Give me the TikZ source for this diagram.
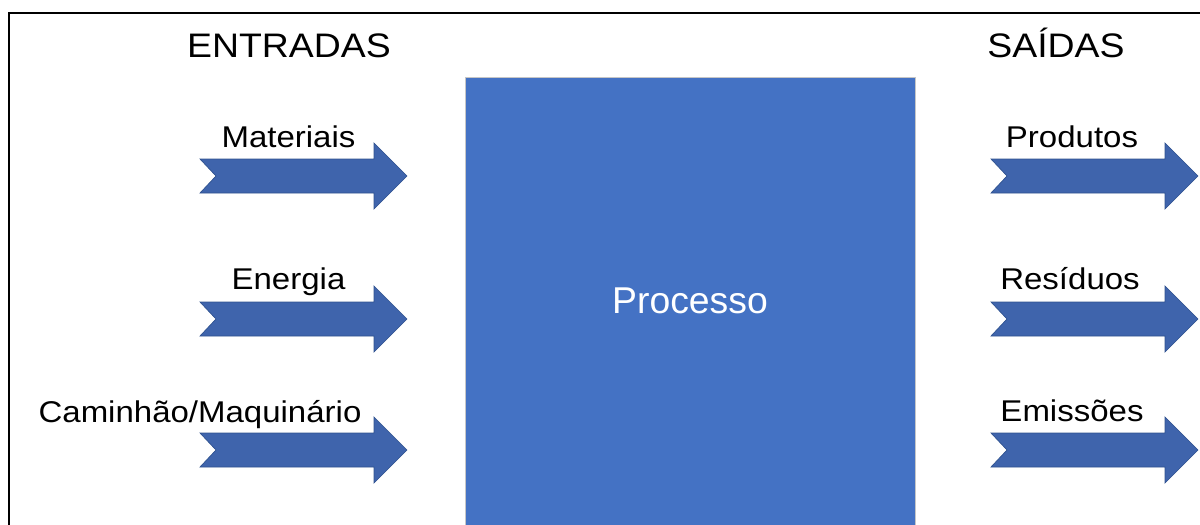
\documentclass[tikz,border=0pt]{standalone}
\usepackage{fontspec}
\setmainfont[FakeStretch=1.1]{Liberation Sans}
\newfontfamily\plainsans{Liberation Sans}
\definecolor{procblue}{HTML}{4472C4}
\definecolor{arrowblue}{HTML}{3F64AC}
\definecolor{arrowedge}{HTML}{2F528F}
\tikzset{
  heading/.style={anchor=base, font=\fontsize{25.5}{30}\selectfont},
  flowlabel/.style={anchor=base, font=\fontsize{22.5}{27}\selectfont},
  procbox/.style={fill=procblue, draw=gray!45, line width=0.6pt, anchor=north west,
    minimum width=337.5pt, minimum height=340pt, inner sep=0pt},
  proctext/.style={text=white, font=\plainsans\fontsize{28}{34}\selectfont},
  frameline/.style={line width=1.5pt, black},
  pics/flowarrow/.style={code={
    \fill[arrowblue, draw=arrowedge, line width=0.5pt, line join=miter]
      (0,-17) -- (174,-17) -- (174,-33) -- (207,0) -- (174,33) -- (174,17)
      -- (0,17) -- (16,0) -- cycle;
  }}
}
\begin{document}
\begin{tikzpicture}[x=0.75pt, y=-0.75pt]
  \useasboundingbox (0,0) rectangle (1200,525);

  % outer frame (only the top and left edges lie inside the page)
  \coordinate (fbl) at (9,530);
  \coordinate (ftl) at (9,13);
  \coordinate (ftr) at (1205,13);
  \draw[frameline] (fbl) -- (ftl) -- (ftr);

  % central process block
  \node[procbox] (proc) at (465,77) {};
  \node[proctext] (proclabel) at (690,301) {Processo};

  % column headings
  \node[heading] (hin) at (289,57) {ENTRADAS};
  \node[heading] (hout) at (1056,57) {SAÍDAS};

  % inputs
  \pic (in1) at (200,176) {flowarrow};
  \pic (in2) at (200,319) {flowarrow};
  \pic (in3) at (200,450) {flowarrow};
  \node[flowlabel] (lin1) at (288.5,147) {Materiais};
  \node[flowlabel] (lin2) at (288.5,289) {Energia};
  \node[flowlabel] (lin3) at (200,422) {Caminhão/Maquinário};

  % outputs
  \pic (out1) at (991,176) {flowarrow};
  \pic (out2) at (991,319) {flowarrow};
  \pic (out3) at (991,450) {flowarrow};
  \node[flowlabel] (lout1) at (1072,147) {Produtos};
  \node[flowlabel] (lout2) at (1070,289) {Resíduos};
  \node[flowlabel] (lout3) at (1072,421) {Emissões};
\end{tikzpicture}
\end{document}
